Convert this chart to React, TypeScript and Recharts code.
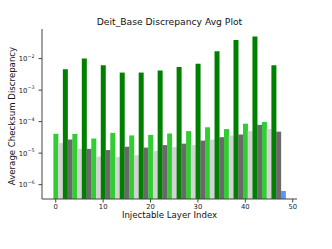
import { BarChart, Bar, XAxis, YAxis, Cell } from 'recharts'

// layers 0,4,...,44
const limeValues = [4.1e-5, 4.1e-5, 2.9e-5, 4.4e-5, 3.65e-5, 3.8e-5, 4.2e-5, 5.0e-5, 6.6e-5, 5.8e-5, 8.6e-5, 9.8e-5]
// layers 1,5,...,45
const lightGrayValues = [2.1e-5, 1.37e-5, 7.8e-6, 7.6e-6, 8.6e-6, 1.18e-5, 1.55e-5, 1.8e-5, 2.7e-5, 3.6e-5, 5.0e-5, 5.8e-5]
// layers 2,6,...,46
const greenValues = [4.6e-3, 1.0e-2, 6.2e-3, 3.6e-3, 3.6e-3, 4.2e-3, 5.4e-3, 6.9e-3, 1.7e-2, 3.9e-2, 5.0e-2, 6.1e-3]
// layers 3,7,...,47
const dimGrayValues = [2.7e-5, 1.37e-5, 1.25e-5, 1.6e-5, 1.5e-5, 1.8e-5, 2.0e-5, 2.5e-5, 3.2e-5, 3.9e-5, 7.9e-5, 4.8e-5]
// last layer
const lastLayer = 48
const lastValue = 6.3e-7

const groups = [
  { offset: 0, values: limeValues, color: '#32cd32' },
  { offset: 1, values: lightGrayValues, color: '#d3d3d3' },
  { offset: 2, values: greenValues, color: '#008000' },
  { offset: 3, values: dimGrayValues, color: '#696969' },
]

const xTicks = [0, 10, 20, 30, 40, 50]
const yTicks = [1e-6, 1e-5, 1e-4, 1e-3, 1e-2]
const yMinorTicks: number[] = []
for (let k = -7; k <= -2; k++) {
  for (let m = 2; m <= 9; m++) {
    const v = m * Math.pow(10, k)
    if (v > 3.5e-7 && v < 0.087) yMinorTicks.push(v)
  }
}

const data = groups
  .flatMap(g => g.values.map((v, i) => ({ layer: g.offset + 4 * i, value: v, color: g.color })))
  .concat([{ layer: lastLayer, value: lastValue, color: '#6495ed' }])
  .sort((a, b) => a.layer - b.layer)

const FONT = '"DejaVu Sans", sans-serif'
const AXIS = '#444'

function PowTick(props: any) {
  const { x, y, payload } = props
  const exp = Math.round(Math.log10(payload.value))
  return (
    <text x={x - 2} y={y + 2.5} textAnchor="end" fontFamily={FONT} fontSize={6.8} fill="#222">
      10<tspan dy={-3.5} fontSize={4.8}>{'\u2212' + Math.abs(exp)}</tspan>
    </text>
  )
}

export default function App() {
  return (
    <div style={{ position: 'absolute', left: 0, top: 0, width: 332, height: 249, background: '#fff', fontFamily: FONT }}>
      <div style={{ position: 'absolute', left: 42, width: 255, top: 16, textAlign: 'center', fontSize: 9.2, color: '#111', whiteSpace: 'nowrap' }}>
        Deit_Base Discrepancy Avg Plot
      </div>
      <div style={{ position: 'absolute', left: 42, width: 255, top: 210, textAlign: 'center', fontSize: 8.6, color: '#111', whiteSpace: 'nowrap' }}>
        Injectable Layer Index
      </div>
      <div style={{ position: 'absolute', left: 12, top: 116, transform: 'translate(-50%, -50%) rotate(-90deg)', fontSize: 8.6, color: '#111', whiteSpace: 'nowrap' }}>
        Average Checksum Discrepancy
      </div>
      <BarChart width={332} height={249} data={data} margin={{ top: 29, right: 35, left: 0, bottom: 0 }} barCategoryGap={0}>
        <XAxis
          xAxisId="main"
          dataKey="layer"
          type="number"
          domain={[-2.9, 50.9]}
          allowDataOverflow
          ticks={xTicks}
          height={50}
          tick={{ fontSize: 6.8, fill: '#222', fontFamily: FONT }}
          tickSize={3.5}
          tickMargin={1.5}
          stroke={AXIS}
        />
        <XAxis xAxisId="top" orientation="top" dataKey="layer" type="number" domain={[-2.9, 50.9]} allowDataOverflow height={0} tick={false} tickLine={false} stroke={AXIS} />
        <YAxis
          yAxisId="main"
          scale="log"
          type="number"
          domain={[3.5e-7, 0.087]}
          allowDataOverflow
          ticks={yTicks}
          width={42}
          tick={<PowTick />}
          tickSize={3.5}
          stroke={AXIS}
        />
        <YAxis yAxisId="minor" scale="log" type="number" domain={[3.5e-7, 0.087]} allowDataOverflow ticks={yMinorTicks} width={0} tick={false} tickSize={2} axisLine={false} stroke={AXIS} />
        <YAxis yAxisId="right" orientation="right" scale="log" type="number" domain={[3.5e-7, 0.087]} allowDataOverflow width={0} tick={false} tickLine={false} stroke={AXIS} />
        <Bar xAxisId="main" yAxisId="main" dataKey="value" isAnimationActive={false}>
          {data.map((d, i) => <Cell key={i} fill={d.color} />)}
        </Bar>
      </BarChart>
    </div>
  )
}
